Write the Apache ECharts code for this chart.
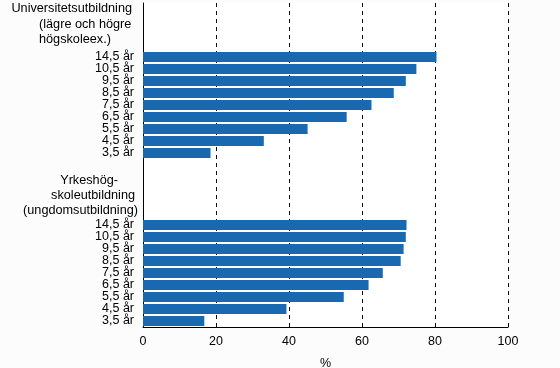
<!DOCTYPE html>
<html>
<head>
<meta charset="utf-8">
<script src="https://cdn.jsdelivr.net/npm/echarts@6/dist/echarts.min.js"></script>
<style>html,body{margin:0;padding:0;background:#fcfcfc;}#c{width:560px;height:368px;}</style>
</head>
<body>
<div id="c"></div>
<script>
// Data
var ageLabels = ['14,5 år', '10,5 år', '9,5 år', '8,5 år', '7,5 år', '6,5 år', '5,5 år', '4,5 år', '3,5 år'];
var uniValues = [80.4, 74.9, 72.0, 68.7, 62.6, 55.8, 45.1, 33.1, 18.5];
var yrkeValues = [72.2, 72.0, 71.4, 70.6, 65.7, 61.8, 55.0, 39.3, 16.8];
var uniTitle = ['Universitetsutbildning', '(lägre och högre', 'högskoleex.)'];
var yrkeTitle = ['Yrkeshög-', 'skoleutbildning', '(ungdomsutbildning)'];
var xTicks = [0, 20, 40, 60, 80, 100];

// Build slot layout: 4 blank title slots, 9 bars, 5 blank title slots, 9 bars
var labels = [], keys = [], values = [];
function blank(n){ for (var i=0;i<n;i++){ labels.push(''); keys.push('b'+keys.length); values.push(null);} }
function group(vals){ for (var i=0;i<vals.length;i++){ labels.push(ageLabels[i]); keys.push('c'+keys.length); values.push(vals[i]);} }
blank(4); group(uniValues); blank(5); group(yrkeValues);

var font = 'Liberation Sans, Arial, sans-serif';
var chart = echarts.init(document.getElementById('c'), null, {renderer:'canvas'});

function titleText(lines, rights, ys, aligns, lefts){
  return lines.map(function(t,i){
    return {type:'text', left: aligns[i]==='left' ? lefts[i] : null, right: aligns[i]==='right' ? 560-rights[i] : null, top: ys[i]-8,
      style:{text:t, fill:'#000', font:'12.7px ' + font}};
  });
}

chart.setOption({
  backgroundColor:'#fcfcfc',
  animation:false,
  grid:{left:143, right:52, top:3, bottom:41, show:true, backgroundColor:'#ffffff', borderWidth:0, containLabel:false, outerBoundsMode:'none'},
  xAxis:{type:'value', min:0, max:100, interval:20,
    axisLine:{show:true, lineStyle:{color:'#000', width:1}},
    axisTick:{show:false},
    axisLabel:{color:'#000', fontSize:12.5, fontFamily:font, margin:8, formatter:function(v){return xTicks.indexOf(v)>=0 ? String(v) : '';}},
    splitLine:{show:true, lineStyle:{color:'#000', type:[4,4], width:1}},
    name:'%', nameLocation:'middle', nameGap:30, nameTextStyle:{color:'#000', fontSize:12.5, fontFamily:font}
  },
  yAxis:{type:'category', inverse:true, data:keys,
    axisLine:{show:true, onZero:false, lineStyle:{color:'#000', width:1}},
    axisTick:{show:false},
    axisLabel:{color:'#000', fontSize:12.5, fontFamily:font, margin:9, interval:0, formatter:function(v, i){return labels[i];}},
    splitLine:{show:false}
  },
  series:[{type:'bar', data:values, barWidth:10, itemStyle:{color:'#1969b2'}, silent:true}],
  graphic: [].concat(
    titleText(uniTitle, [132,0,0], [10,26,41], ['right','left','left'], [0,39,39]),
    titleText(yrkeTitle, [118,135,138], [182,197,212], ['right','right','right'], [0,0,0])
  )
});
</script>
</body>
</html>
